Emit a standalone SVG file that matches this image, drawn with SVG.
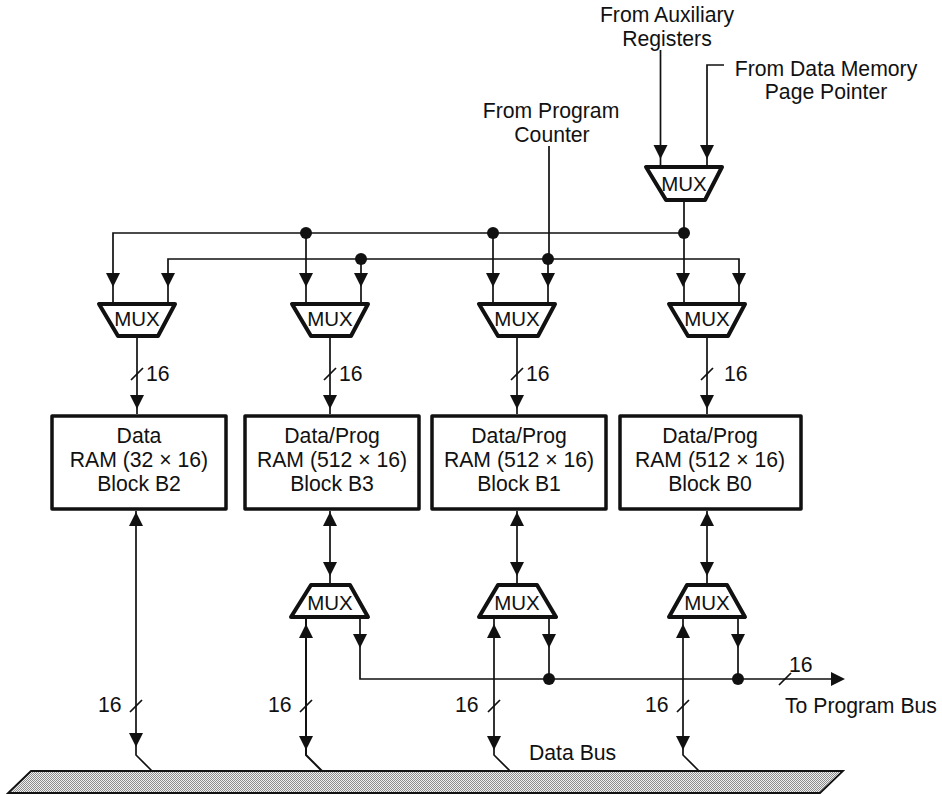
<svg xmlns="http://www.w3.org/2000/svg" width="942" height="794" viewBox="0 0 942 794">
<style>
text{font-family:"Liberation Sans",Arial,sans-serif;font-size:21.2px;fill:#111;text-anchor:middle}
.st{text-anchor:start}
.m{font-size:20.5px}
.w{fill:none;stroke:#111;stroke-width:1.7}
.t{fill:none;stroke:#111;stroke-width:2}
.mux{fill:#fff;stroke:#111;stroke-width:4;stroke-linejoin:round}
.box{fill:#fff;stroke:#111;stroke-width:3.5;stroke-linejoin:round}
.dot{fill:#111}
</style>
<defs>
<polygon id="ad" points="-7,0 7,0 0,14" fill="#111"/>
<polygon id="au" points="-7,0 7,0 0,-14" fill="#111"/>
<circle id="d" r="6" class="dot"/>
<path id="sl" d="M-6,6L6,-6" class="w"/>
<pattern id="hatch" width="2" height="2" patternUnits="userSpaceOnUse"><rect width="2" height="2" fill="#f0f0f0"/><rect width="1" height="1" fill="#8c8c8c"/><rect x="1" y="1" width="1" height="1" fill="#8c8c8c"/></pattern>
</defs>
<g id="bus">
<polygon points="31,771 843,771 820,793 8,793" fill="url(#hatch)" stroke="#111" stroke-width="1.8"/>
</g>
<g id="connectors">
<path class="w" d="M660.5,50V166M707,166V65H724M549,146V259M684,201V303M113,303V233H684M306,233V303M493,233V303M168,303V259H739V303M361,259V303M548,259V303"/>
<path class="w" d="M137,337V414M330,337V414M517,337V414M707,337V414"/>
<path class="w" d="M136,511V755L152,771M330,511V584M517,511V584M707,511V584"/>
<path class="t" d="M306,618V755L322,771"/>
<path class="w" d="M494,618V755L510,771M683,618V755L699,771"/>
<path class="w" d="M360,618V679H835M549,618V679M738,618V679"/>
<use href="#ad" x="660.5" y="145"/><use href="#ad" x="707" y="145"/>
<use href="#ad" x="113" y="273"/><use href="#ad" x="168" y="273"/><use href="#ad" x="306" y="273"/><use href="#ad" x="361" y="273"/><use href="#ad" x="493" y="273"/><use href="#ad" x="548" y="273"/><use href="#ad" x="683" y="273"/><use href="#ad" x="739" y="273"/>
<use href="#ad" x="137" y="395"/><use href="#ad" x="330" y="395"/><use href="#ad" x="517" y="395"/><use href="#ad" x="707" y="395"/>
<use href="#au" x="136" y="526"/><use href="#au" x="330" y="526"/><use href="#au" x="517" y="526"/><use href="#au" x="707" y="526"/>
<use href="#ad" x="330" y="562"/><use href="#ad" x="517" y="562"/><use href="#ad" x="707" y="562"/>
<use href="#au" x="306" y="638"/><use href="#au" x="494" y="638"/><use href="#au" x="683" y="638"/>
<use href="#ad" x="360" y="634"/><use href="#ad" x="549" y="634"/><use href="#ad" x="738" y="634"/>
<use href="#ad" x="136" y="733"/><use href="#ad" x="306" y="736"/><use href="#ad" x="494" y="736"/><use href="#ad" x="683" y="736"/>
<polygon points="831,672 845,679 831,686" fill="#111"/>
<use href="#d" x="684" y="233"/><use href="#d" x="306" y="233"/><use href="#d" x="493" y="233"/><use href="#d" x="361" y="259"/><use href="#d" x="548" y="259"/><use href="#d" x="549" y="679"/><use href="#d" x="738" y="679"/>
<use href="#sl" x="137" y="374"/><use href="#sl" x="330" y="374"/><use href="#sl" x="517" y="374"/><use href="#sl" x="707" y="374"/>
<use href="#sl" x="136" y="706"/><use href="#sl" x="306" y="706"/><use href="#sl" x="494" y="706"/><use href="#sl" x="683" y="706"/><use href="#sl" x="785" y="679"/>
</g>
<g id="mux-pointer"><polygon class="mux" points="646,167 722,167 705,200 666,200"/><text class="m" x="684" y="191">MUX</text></g>
<g id="mux-b2-in"><polygon class="mux" points="99,304 175,304 158,336 118,336"/><text class="m" x="137" y="326">MUX</text></g>
<g id="mux-b3-in"><polygon class="mux" points="292,304 368,304 351,336 311,336"/><text class="m" x="330" y="326">MUX</text></g>
<g id="mux-b1-in"><polygon class="mux" points="479,304 555,304 538,336 498,336"/><text class="m" x="517" y="326">MUX</text></g>
<g id="mux-b0-in"><polygon class="mux" points="669,304 745,304 728,336 688,336"/><text class="m" x="707" y="326">MUX</text></g>
<g id="block-b2"><rect class="box" x="52" y="416" width="174" height="93"/><text x="139" y="443">Data</text><text x="139" y="467">RAM (32 × 16)</text><text x="139" y="491">Block B2</text></g>
<g id="block-b3"><rect class="box" x="245" y="416" width="174" height="93"/><text x="332" y="443">Data/Prog</text><text x="332" y="467">RAM (512 × 16)</text><text x="332" y="491">Block B3</text></g>
<g id="block-b1"><rect class="box" x="432" y="416" width="174" height="93"/><text x="519" y="443">Data/Prog</text><text x="519" y="467">RAM (512 × 16)</text><text x="519" y="491">Block B1</text></g>
<g id="block-b0"><rect class="box" x="620" y="416" width="181" height="93"/><text x="710" y="443">Data/Prog</text><text x="710" y="467">RAM (512 × 16)</text><text x="710" y="491">Block B0</text></g>
<g id="mux-b3-out"><polygon class="mux" points="311,585 350,585 368,617 291,617"/><text class="m" x="330" y="610">MUX</text></g>
<g id="mux-b1-out"><polygon class="mux" points="498,585 537,585 556,617 479,617"/><text class="m" x="517" y="610">MUX</text></g>
<g id="mux-b0-out"><polygon class="mux" points="687,585 727,585 745,617 669,617"/><text class="m" x="707" y="610">MUX</text></g>
<g id="labels">
<text x="667" y="22">From Auxiliary</text><text x="667" y="46">Registers</text>
<text x="826" y="76">From Data Memory</text><text x="826" y="99">Page Pointer</text>
<text x="551" y="118">From Program</text><text x="552" y="142">Counter</text>
<text class="st" x="146" y="381">16</text><text class="st" x="339" y="381">16</text><text class="st" x="526" y="381">16</text><text class="st" x="724" y="381">16</text>
<text class="st" x="98" y="712">16</text><text class="st" x="268" y="712">16</text><text class="st" x="455" y="712">16</text><text class="st" x="645" y="712">16</text>
<text class="st" x="789" y="672">16</text>
<text class="st" x="785" y="713">To Program Bus</text>
<text class="st" x="529" y="760">Data Bus</text>
</g>
</svg>
